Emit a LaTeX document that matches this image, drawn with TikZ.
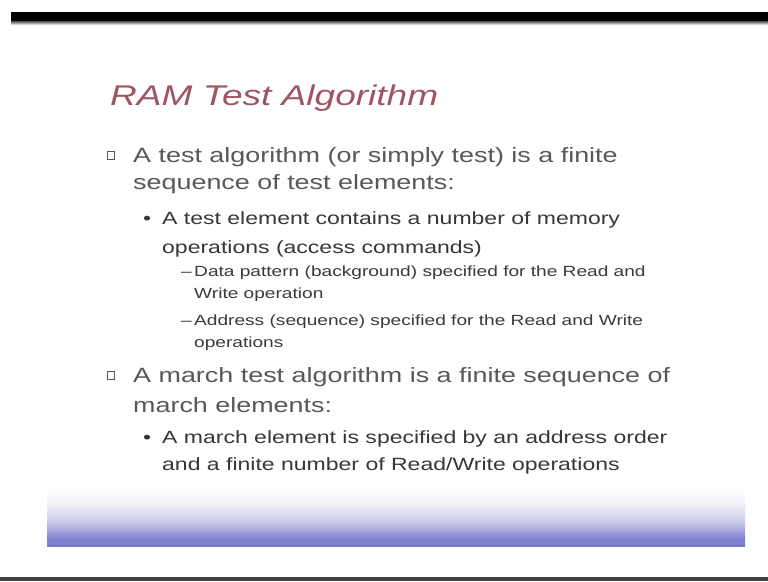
\documentclass[tikz,border=0pt]{standalone}
\usepackage{fontspec}
\newfontfamily\slidefont[FakeStretch=1.3]{Liberation Sans}

\definecolor{titlered}{RGB}{160,86,96}
\definecolor{levelone}{RGB}{88,88,88}
\definecolor{leveltwo}{RGB}{55,55,55}
\definecolor{levelthree}{RGB}{58,58,58}
\definecolor{bandA}{RGB}{122,122,198}
\definecolor{bandB}{RGB}{132,132,210}
\definecolor{bandC}{RGB}{168,168,224}
\definecolor{bandD}{RGB}{206,206,236}
\definecolor{bandE}{RGB}{238,238,248}

% footer band: white at the top, fading into violet at the bottom
\pgfdeclareverticalshading{bandshade}{100bp}{%
  color(0bp)=(bandA); color(25bp)=(bandA); color(32bp)=(bandB);
  color(39bp)=(bandC); color(47bp)=(bandD); color(60bp)=(bandE);
  color(75bp)=(white); color(100bp)=(white)}

\tikzset{
  slidetitle/.style={anchor=base west, inner sep=0pt, text=titlered,
    font=\slidefont\itshape\fontsize{28.5}{32}\selectfont},
  lvlone/.style={anchor=base west, inner sep=0pt, text=levelone,
    font=\slidefont\fontsize{20.7}{24}\selectfont},
  lvltwo/.style={anchor=base west, inner sep=0pt, text=leveltwo,
    font=\slidefont\fontsize{17.7}{21}\selectfont},
  lvlthree/.style={anchor=base west, inner sep=0pt, text=levelthree,
    font=\slidefont\fontsize{14.7}{17}\selectfont},
  boxbullet/.style={draw=levelone, line width=1.4pt, inner sep=0pt,
    minimum width=7pt, minimum height=8.5pt},
}

\begin{document}
\begin{tikzpicture}[x=1pt,y=-1pt]
  \useasboundingbox (0,0) rectangle (768,581);
  \fill[white] (0,0) rectangle (768,581);

  % frame bars
  \fill[black] (11,12) rectangle (768,21);
  \shade[top color=black!70, bottom color=white] (11,21) rectangle (768,25);
  \fill[black!75] (0,577) rectangle (768,581);

  % footer band
  \shade[shading=bandshade] (47,488) rectangle (745,546);

  % title
  \node[slidetitle] (title) at (110,105) {RAM Test Algorithm};

  % first main item
  \node[boxbullet] (b1) at (111,155.5) {};
  \node[lvlone] (t1a) at (133,162) {A test algorithm (or simply test) is a finite};
  \node[lvlone] (t1b) at (133,189) {sequence of test elements:};

  \node[lvltwo] (d1) at (143,224) {•};
  \node[lvltwo] (t2a) at (162,224) {A test element contains a number of memory};
  \node[lvltwo] (t2b) at (162,253) {operations (access commands)};

  \node[lvlthree] (e1) at (181,276) {–};
  \node[lvlthree] (t3a) at (194,276) {Data pattern (background) specified for the Read and};
  \node[lvlthree] (t3b) at (194,298) {Write operation};

  \node[lvlthree] (e2) at (181,325) {–};
  \node[lvlthree] (t4a) at (194,325) {Address (sequence) specified for the Read and Write};
  \node[lvlthree] (t4b) at (194,347) {operations};

  % second main item
  \node[boxbullet] (b2) at (111,375.5) {};
  \node[lvlone] (t5a) at (133,382) {A march test algorithm is a finite sequence of};
  \node[lvlone] (t5b) at (133,412) {march elements:};

  \node[lvltwo] (d2) at (143,443) {•};
  \node[lvltwo] (t6a) at (162,443) {A march element is specified by an address order};
  \node[lvltwo] (t6b) at (162,470) {and a finite number of Read/Write operations};
\end{tikzpicture}
\end{document}
